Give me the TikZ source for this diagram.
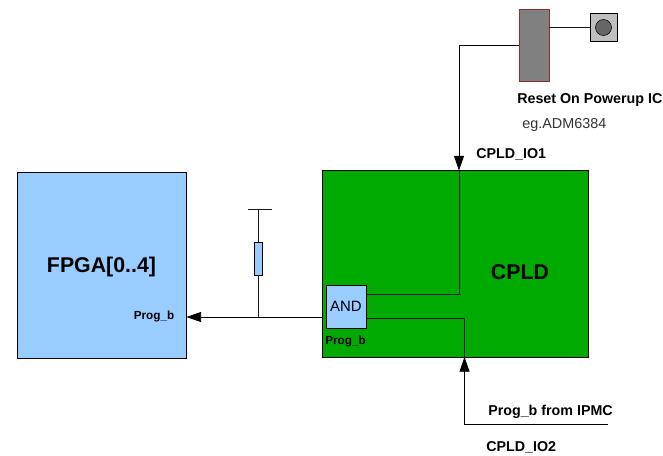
\documentclass[tikz,border=0pt]{standalone}
\usepackage{fontspec}
\setmainfont{Liberation Sans}
\usepackage{xcolor}
\usetikzlibrary{arrows.meta, positioning, shapes, calc}
\definecolor{fpgablue}{HTML}{99CCFF}
\definecolor{cpldgreen}{HTML}{00AA00}
\definecolor{icred}{HTML}{8B2E2E}

\begin{document}
\begin{tikzpicture}[
    x=0.75pt,
    y=-0.75pt,
    chip/.style={
        rectangle,
        draw=black,
        line width=0.6pt,
        inner sep=0pt,
        align=center
    },
    arrow/.style={
        -{Triangle[length=11pt,width=7.5pt]},
        line width=0.6pt,
        color=black
    },
    wire/.style={
        line width=0.6pt,
        color=black!90
    },
    caption/.style={
        font=\fontsize{10.7pt}{12pt}\selectfont\bfseries,
        inner sep=0pt
    },
    pinlabel/.style={
        font=\fontsize{8.8pt}{10pt}\selectfont\bfseries,
        inner sep=0pt
    }
]
\useasboundingbox (0,0) rectangle (663,455);

% Main blocks
\node[chip, fill=fpgablue, minimum width=126.75pt, minimum height=139.5pt] (fpga) at (101.5,265) {};
\node[chip, fill=cpldgreen, minimum width=199.5pt, minimum height=140.25pt] (cpld) at (455,263.5) {};
\node[chip, fill=fpgablue, minimum width=30pt, minimum height=32.25pt, font=\fontsize{11.2pt}{13pt}\selectfont] (andgate) at (346,306.5) {AND};

% Reset circuit
\node[chip, draw=icred, fill=black!50, minimum width=22.5pt, minimum height=54pt] (resetic) at (534,45) {};
\node[chip, fill=black!25, minimum width=20.25pt, minimum height=21pt] (button) at (603.5,27.5) {};
\node[circle, draw=black, fill=black!60, minimum size=12pt, inner sep=0pt] (buttoncap) at (603.5,27.5) {};

% Pull-up resistor
\node[chip, fill=fpgablue, minimum width=6pt, minimum height=24.75pt] (resistor) at (258,258.5) {};
\coordinate (railleft) at (248,209);
\coordinate (railright) at (272,209);
\coordinate (railmid) at (258,209);
\coordinate (progjoin) at (258,317);

% Labels
\node[font=\fontsize{16pt}{18pt}\selectfont\bfseries] (fpgalabel) at (101.5,267) {FPGA[0..4]};
\node[font=\fontsize{16pt}{18pt}\selectfont\bfseries] (cpldlabel) at (520,272) {CPLD};
\node[pinlabel] (fpgaprog) at (154,316.5) {Prog\_b};
\node[pinlabel] (andprog) at (345.5,341.5) {Prog\_b};
\node[caption, anchor=west] (reseticlabel) at (517,100) {Reset On Powerup IC};
\node[font=\fontsize{10.8pt}{12pt}\selectfont, inner sep=0pt, anchor=west, text=black!80] (reseticpart) at (522,125) {eg.ADM6384};
\node[caption, anchor=west] (iolabela) at (476,154) {CPLD\_IO1};
\node[caption, anchor=west] (ipmclabel) at (488,412) {Prog\_b from IPMC};
\node[caption, anchor=west] (iolabelb) at (486,447) {CPLD\_IO2};

% Wires
\coordinate (ioa) at (459,170.5);
\coordinate (iob) at (464.5,357);
\coordinate (ipmcstart) at (464.5,424);
\coordinate (ipmcend) at (608,424);
\coordinate (icout) at (519,45);
\coordinate (iocorner) at (459,45);
\coordinate (andtop) at (366,294);
\coordinate (andbot) at (366,318);
\draw[wire] (resetic.east |- button) -- (button.west);
\draw[arrow] (icout) -- (iocorner) -- (ioa);
\draw[wire] (ioa) -- (459,294) -- (andtop);
\draw[wire] (andbot) -- (464.5,318) -- (iob);
\draw[arrow] (ipmcend) -- (ipmcstart) -- (iob);
\draw[arrow] (cpld.west |- progjoin) -- (fpga.east |- progjoin);
\draw[wire] (railleft) -- (railright);
\draw[wire] (railmid) -- (resistor.north);
\draw[wire] (resistor.south) -- (progjoin);

\end{tikzpicture}
\end{document}
